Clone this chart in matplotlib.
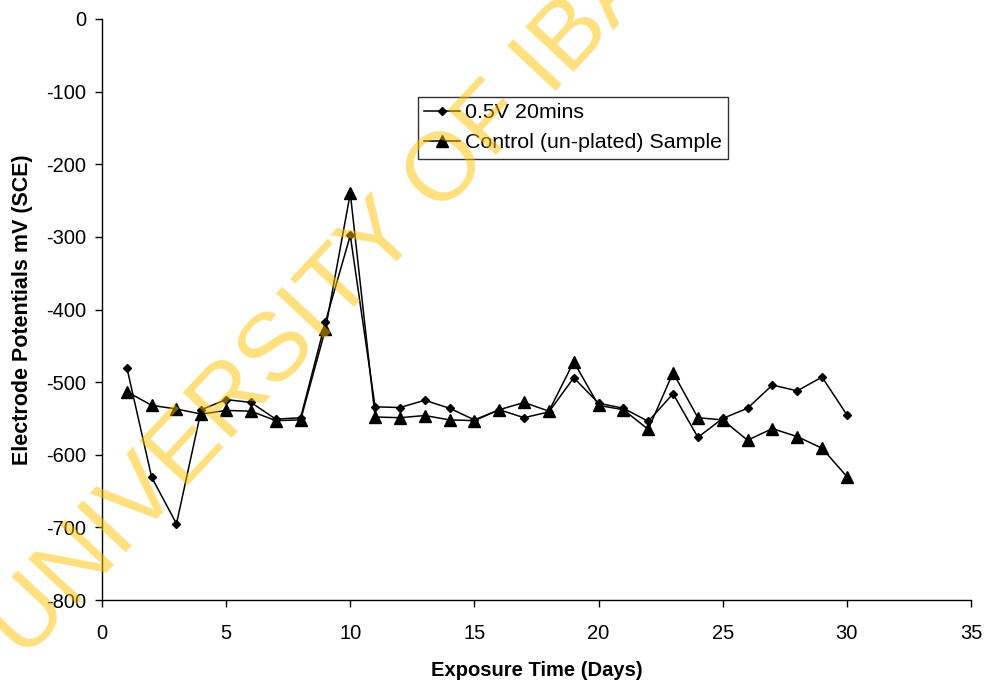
import matplotlib.pyplot as plt

plt.rcParams["font.family"] = ["Liberation Sans", "DejaVu Sans"]
plt.rcParams["axes.unicode_minus"] = False

days = list(range(1, 31))
plated_05v_20min = [
    -480, -631, -695, -538, -524, -528, -551, -549, -417, -298,
    -534, -535, -525, -536, -552, -538, -549, -541, -494, -529,
    -536, -554, -516, -576, -550, -536, -504, -512, -493, -545,
]
control_unplated = [
    -513, -532, -537, -544, -539, -540, -553, -552, -427, -240,
    -548, -549, -546, -552, -553, -538, -528, -540, -472, -532,
    -538, -565, -487, -549, -552, -580, -564, -575, -591, -630,
]
labels = ["0.5V 20mins", "Control (un-plated) Sample"]
x_ticks = list(range(0, 36, 5))
y_ticks = list(range(-800, 1, 100))

fig = plt.figure(figsize=(9.85, 6.83), dpi=100)
ax = fig.add_axes([102 / 985, 1 - 600 / 683, 869 / 985, 581 / 683])

ax.plot(days, plated_05v_20min, color="black", linewidth=1.1,
        marker="D", markersize=4.5, label=labels[0])
ax.plot(days, control_unplated, color="black", linewidth=1.1,
        marker="^", markersize=9, label=labels[1])

ax.set_xlim(0, 35)
ax.set_ylim(-800, 0)
ax.set_xticks(x_ticks)
ax.set_yticks(y_ticks)
ax.tick_params(direction="out", length=5, width=1, labelsize=14.5)
ax.tick_params(axis="x", pad=12)
ax.tick_params(axis="y", pad=6.5)
for side in ("top", "right"):
    ax.spines[side].set_visible(False)
for side in ("left", "bottom"):
    ax.spines[side].set_linewidth(1)

ax.set_xlabel("Exposure Time (Days)", fontsize=14.5, fontweight="bold", labelpad=13)
ax.set_ylabel("Electrode Potentials mV (SCE)", fontsize=15.5, fontweight="bold", labelpad=9)

leg = ax.legend(loc="upper left", bbox_to_anchor=(0.3636, 0.8657), fontsize=15.4,
                frameon=True, fancybox=False, shadow=False, numpoints=1,
                handlelength=1.68, handletextpad=0.2, borderpad=0.3,
                labelspacing=0.5, borderaxespad=0)
leg.get_frame().set_edgecolor("black")
leg.get_frame().set_linewidth(1)

# watermark
fig.text(0.398, 0.664, "UNIVERSITY OF IBADAN", fontsize=70, color="#FFC100",
         alpha=0.5, rotation=47, rotation_mode="anchor",
         ha="center", va="center", zorder=10)

fig.savefig("out.png", dpi=100)
